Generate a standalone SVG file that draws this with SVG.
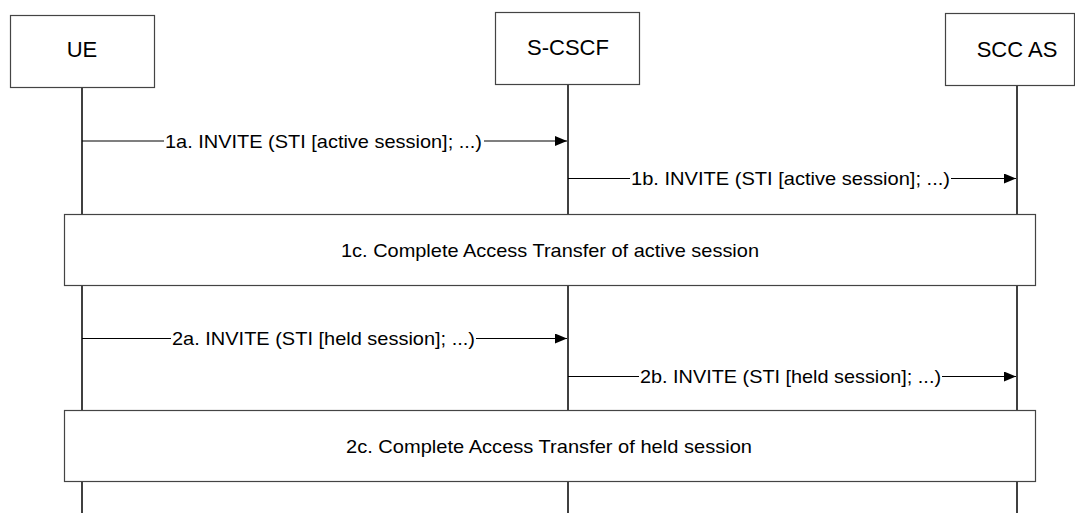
<svg xmlns="http://www.w3.org/2000/svg" width="1075" height="513" viewBox="0 0 1075 513">
<defs>
<style>
.box{fill:#fff;stroke:#444;stroke-width:1.2}
.life{stroke:#000;stroke-width:1.5}
.msg{stroke:#000;stroke-width:1.2;fill:none}
.hd{font-family:"Liberation Sans",Arial,sans-serif;font-size:22px;fill:#000;text-anchor:middle}
.tx{font-family:"Liberation Sans",Arial,sans-serif;font-size:19px;fill:#000}
</style>
<marker id="arr" viewBox="0 0 12 10" refX="12" refY="5" markerWidth="12" markerHeight="10" markerUnits="userSpaceOnUse" orient="auto">
<path d="M0,0 L12,5 L0,10 Z" fill="#000"/>
</marker>
</defs>
<g id="lifelines">
<line class="life" x1="82" y1="87" x2="82" y2="513"/>
<line class="life" x1="568" y1="84" x2="568" y2="513"/>
<line class="life" x1="1017" y1="86" x2="1017" y2="513"/>
</g>
<g id="UE">
<rect class="box" x="10.5" y="15.5" width="144" height="72"/>
<text class="hd" x="82" y="57">UE</text>
</g>
<g id="S-CSCF">
<rect class="box" x="495.5" y="12.5" width="144" height="72"/>
<text class="hd" x="568" y="55">S-CSCF</text>
</g>
<g id="SCC-AS">
<rect class="box" x="945.5" y="13.5" width="129" height="72"/>
<text class="hd" x="1017" y="56.5">SCC AS</text>
</g>
<g id="connectors">
<line class="msg" x1="82" y1="141" x2="164" y2="141" stroke="#666"/>
<line class="msg" x1="484" y1="141" x2="567" y2="141" marker-end="url(#arr)"/>
<line class="msg" x1="568" y1="178.5" x2="630" y2="178.5"/>
<line class="msg" x1="951" y1="178.5" x2="1016" y2="178.5" marker-end="url(#arr)"/>
<line class="msg" x1="82" y1="338.5" x2="171" y2="338.5"/>
<line class="msg" x1="476" y1="338.5" x2="567" y2="338.5" marker-end="url(#arr)"/>
<line class="msg" x1="568" y1="376.5" x2="639" y2="376.5"/>
<line class="msg" x1="942" y1="376.5" x2="1016" y2="376.5" marker-end="url(#arr)"/>
</g>
<g id="labels">
<text class="tx" x="165" y="147.5" textLength="317" lengthAdjust="spacingAndGlyphs">1a. INVITE (STI [active session]; ...)</text>
<text class="tx" x="631" y="185" textLength="319" lengthAdjust="spacingAndGlyphs">1b. INVITE (STI [active session]; ...)</text>
<text class="tx" x="172" y="345" textLength="303" lengthAdjust="spacingAndGlyphs">2a. INVITE (STI [held session]; ...)</text>
<text class="tx" x="640" y="383" textLength="301" lengthAdjust="spacingAndGlyphs">2b. INVITE (STI [held session]; ...)</text>
</g>
<g id="step-1c">
<rect class="box" x="64.5" y="214.5" width="971" height="71"/>
<text class="tx" x="341" y="257" textLength="418" lengthAdjust="spacingAndGlyphs">1c. Complete Access Transfer of active session</text>
</g>
<g id="step-2c">
<rect class="box" x="64.5" y="410.5" width="971" height="71"/>
<text class="tx" x="346" y="453" textLength="406" lengthAdjust="spacingAndGlyphs">2c. Complete Access Transfer of held session</text>
</g>
</svg>
